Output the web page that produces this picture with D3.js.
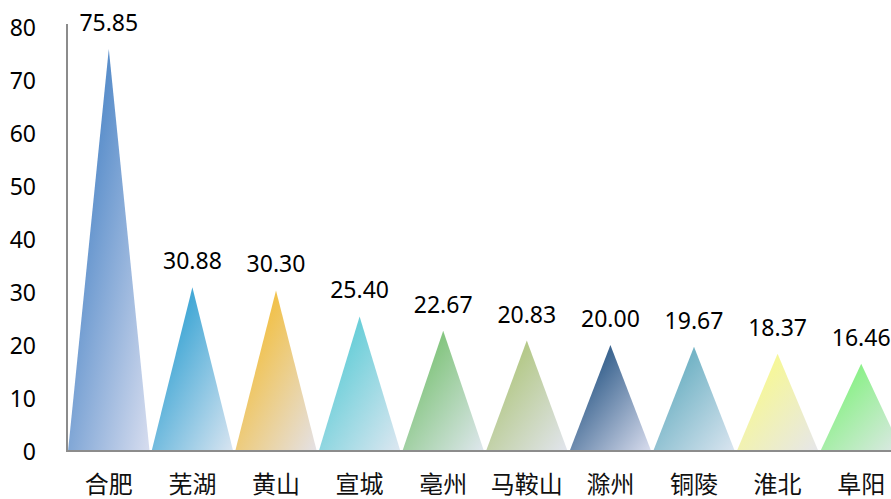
<!DOCTYPE html>
<html><head><meta charset="utf-8">
<script src="https://cdn.jsdelivr.net/npm/d3@7"></script>
<style>html,body{margin:0;padding:0;background:#fff;overflow:hidden}</style>
</head><body>
<svg id="c" width="891" height="499"></svg>
<script>
const categories = ["合肥","芜湖","黄山","宣城","亳州","马鞍山","滁州","铜陵","淮北","阜阳"];
const values = [75.85,30.88,30.30,25.40,22.67,20.83,20.00,19.67,18.37,16.46];
const yTicks = [0,10,20,30,40,50,60,70,80];
const startColors = ["#5b8fcb","#45a9d6","#f1c24e","#6ccfd9","#86c682","#b5c98a","#3d6691","#74b4c6","#f6f79a","#8ef08c"];
const endColors   = ["#d7ddef","#d9e5f1","#e4e1e6","#dde7f1","#dfe7ee","#e2e5ee","#d9ddee","#dae5f0","#e6e6ea","#dfe8e8"];

const svg = d3.select("#c");
const x = d3.scaleBand().domain(categories).range([67, 903]).paddingInner(0.025).paddingOuter(0.0125);
const y = d3.scaleLinear().domain([0, 80]).range([451, 27]);

const defs = svg.append("defs");
categories.forEach((c, i) => {
  const g = defs.append("linearGradient").attr("id", "g" + i)
    .attr("x1", "0%").attr("y1", "0%").attr("x2", "100%").attr("y2", "100%");
  g.append("stop").attr("offset", "0%").attr("stop-color", startColors[i]);
  g.append("stop").attr("offset", "28%").attr("stop-color", startColors[i]);
  g.append("stop").attr("offset", "100%").attr("stop-color", endColors[i]);
});

svg.selectAll("path.tri").data(categories).enter().append("path")
  .attr("class", "tri")
  .attr("d", (c, i) => {
    const x0 = x(c), x1 = x(c) + x.bandwidth(), xm = x(c) + x.bandwidth() / 2;
    return `M${x0},${y(0)}L${xm},${y(values[i])}L${x1},${y(0)}Z`;
  })
  .attr("fill", (c, i) => `url(#g${i})`);

// axes
const yAxis = d3.axisLeft(y).tickValues(yTicks).tickSize(0).tickPadding(31);
const ga = svg.append("g").attr("transform", "translate(67,0)").call(yAxis);
ga.select(".domain").attr("stroke", "#8c8c8c").attr("stroke-width", 2).attr("d", `M0,${y(80) - 3}V${y(0)}`);
ga.selectAll("text").attr("font-family", "'Noto Sans', sans-serif").attr("font-size", 23).attr("fill", "#000").attr("dy", "0.36em");

const xAxis = d3.axisBottom(x).tickSize(0).tickPadding(24);
const gx = svg.append("g").attr("transform", `translate(0,${y(0)})`).call(xAxis);
gx.select(".domain").attr("stroke", "#8c8c8c").attr("stroke-width", 2).attr("d", `M66,0H903`);
gx.selectAll("text").attr("font-family", "'Noto Sans CJK SC', sans-serif").attr("font-size", 24).attr("fill", "#111").attr("dy", "0.76em");

// value labels
svg.selectAll("text.val").data(categories).enter().append("text")
  .attr("class", "val")
  .attr("x", c => x(c) + x.bandwidth() / 2)
  .attr("y", (c, i) => y(values[i]) - 18)
  .attr("text-anchor", "middle")
  .attr("font-family", "'Noto Sans', sans-serif").attr("font-size", 23).attr("fill", "#000")
  .text((c, i) => values[i].toFixed(2));
</script>
</body></html>
